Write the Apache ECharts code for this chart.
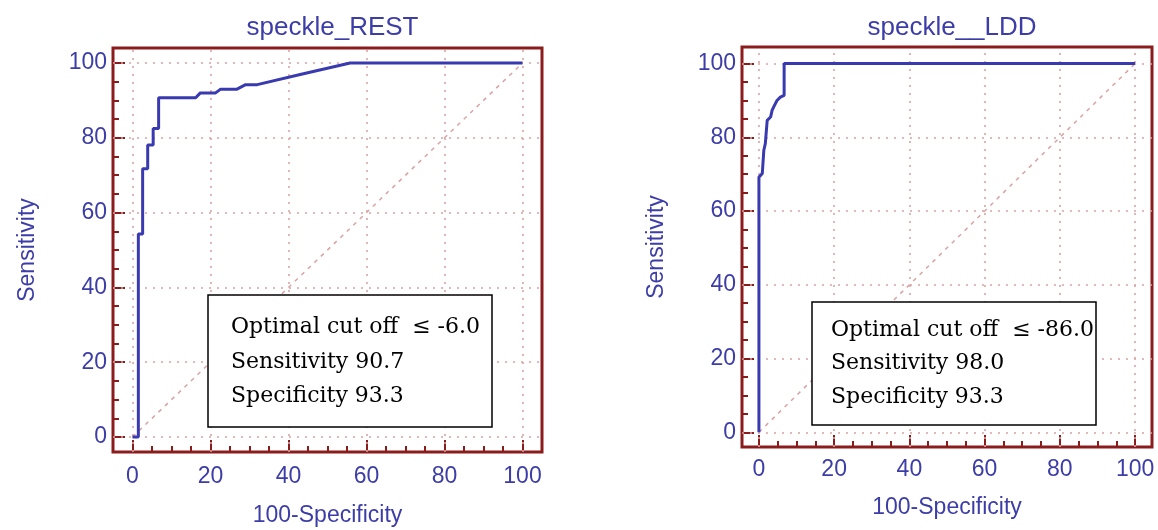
<!DOCTYPE html>
<html>
<head>
<meta charset="utf-8">
<script src="https://cdn.jsdelivr.net/npm/echarts@6/dist/echarts.min.js"></script>
<style>html,body{margin:0;padding:0;background:#fff;}#c{width:1158px;height:530px;}</style>
</head>
<body>
<div id="c"></div>
<script>
// ---- data ----
const titles = ['speckle_REST', 'speckle__LDD'];
const xName = '100-Specificity';
const yName = 'Sensitivity';
const majorTicks = [0, 20, 40, 60, 80, 100];
const minorTicks = [5, 10, 15, 25, 30, 35, 45, 50, 55, 65, 70, 75, 85, 90, 95];
const diagX = [0, 100];
const diagY = [0, 100];
const restX = [0, 1.5, 1.5, 2.6, 2.6, 3.9, 3.9, 5.3, 5.3, 6.7, 6.7, 16.2, 17.4, 21.3, 22.6, 26.8, 29, 32, 43, 55.8, 100];
const restY = [0, 0, 54.3, 54.3, 71.7, 71.7, 78.1, 78.1, 82.5, 82.5, 90.7, 90.7, 92, 92, 93, 93, 94.2, 94.2, 96.9, 100, 100];
const lddX = [0, 0, 0.9, 1.3, 1.7, 2.2, 3.1, 3.5, 3.9, 4.8, 5.7, 6.7, 6.7, 100];
const lddY = [0, 69.2, 70.2, 76.5, 78.3, 84.6, 85.5, 87.3, 88.2, 90, 90.9, 91.4, 100, 100];
const restBox = ['Optimal cut off  \u2264 -6.0', 'Sensitivity 90.7', 'Specificity 93.3'];
const lddBox = ['Optimal cut off  \u2264 -86.0', 'Sensitivity 98.0', 'Specificity 93.3'];

// ---- styles ----
const BLUE = '#3d3da8';
const CURVE = '#3a3ab0';
const FRAME = '#8b1c1c';
const GRIDC = '#d9a3a3';
const zip = (a, b) => a.map((v, i) => [v, b[i]]);

const grids = [
  {left: 113, top: 48, width: 429, height: 404, xr: [-5, 105], yr: [-4, 104], yGap: 74, xGap: 52, labM: 13},
  {left: 742, top: 47, width: 410, height: 400, xr: [-4.5, 104.5], yr: [-4, 104.5], yGap: 74, xGap: 49, labM: 11}
];

const option = {
  animation: false,
  backgroundColor: '#fff',
  title: grids.map((g, i) => ({
    text: titles[i], left: g.left + g.width / 2, top: 10, textAlign: 'center',
    textStyle: {fontFamily: 'Liberation Sans', fontSize: 26, fontWeight: 'normal', color: BLUE}
  })),
  grid: grids.map(g => ({left: g.left, top: g.top, width: g.width, height: g.height,
    outerBoundsMode: 'none', containLabel: false,
    show: true, borderColor: FRAME, borderWidth: 3, backgroundColor: 'transparent'})),
  xAxis: [],
  yAxis: [],
  series: [],
  graphic: []
};

grids.forEach((g, i) => {
  const label = {customValues: majorTicks, color: BLUE, fontFamily: 'Liberation Sans', fontSize: 23};
  const noLine = {show: false, onZero: false};
  option.xAxis.push({
    type: 'value', gridIndex: i, min: g.xr[0], max: g.xr[1], position: 'bottom',
    axisLine: noLine, splitLine: {show: false},
    axisTick: {show: true, inside: true, length: 12, customValues: majorTicks, lineStyle: {color: FRAME, width: 2}},
    axisLabel: Object.assign({margin: g.labM}, label),
    name: xName, nameLocation: 'middle', nameGap: g.xGap,
    nameTextStyle: {color: BLUE, fontFamily: 'Liberation Sans', fontSize: 23}
  });
  option.xAxis.push({
    type: 'value', gridIndex: i, min: g.xr[0], max: g.xr[1], position: 'bottom',
    axisLine: noLine, splitLine: {show: false},
    axisTick: {show: true, inside: true, length: 6, customValues: minorTicks, lineStyle: {color: FRAME, width: 2}},
    axisLabel: {show: false}
  });
  option.yAxis.push({
    type: 'value', gridIndex: i, min: g.yr[0], max: g.yr[1], position: 'left',
    axisLine: noLine, splitLine: {show: false},
    axisTick: {show: true, inside: true, length: 12, customValues: majorTicks, lineStyle: {color: FRAME, width: 2}},
    axisLabel: Object.assign({margin: 6}, label),
    name: yName, nameLocation: 'middle', nameGap: g.yGap, nameRotate: 90,
    nameTextStyle: {color: BLUE, fontFamily: 'Liberation Sans', fontSize: 23}
  });
  option.yAxis.push({
    type: 'value', gridIndex: i, min: g.yr[0], max: g.yr[1], position: 'left',
    axisLine: noLine, splitLine: {show: false},
    axisTick: {show: true, inside: true, length: 6, customValues: minorTicks, lineStyle: {color: FRAME, width: 2}},
    axisLabel: {show: false}
  });
  option.series.push({
    type: 'line', xAxisIndex: 2 * i, yAxisIndex: 2 * i, data: zip(diagX, diagY),
    symbol: 'none', silent: true, z: 1,
    lineStyle: {color: GRIDC, width: 1.5, type: [4, 5]},
    markLine: {
      silent: true, symbol: 'none', label: {show: false},
      lineStyle: {color: GRIDC, width: 1.6, type: [2, 6]},
      emphasis: {disabled: true},
      data: majorTicks.map(v => ({xAxis: v})).concat(majorTicks.map(v => ({yAxis: v})))
    }
  });
  option.series.push({
    type: 'line', xAxisIndex: 2 * i, yAxisIndex: 2 * i,
    data: i === 0 ? zip(restX, restY) : zip(lddX, lddY),
    symbol: 'none', z: 5, lineStyle: {color: CURVE, width: 3}
  });
});

const boxes = [
  {x: 208, y: 295, w: 284, h: 132, tx: 231, ty: [327, 362, 396], lines: restBox},
  {x: 812, y: 302, w: 284, h: 123, tx: 831, ty: [330, 363, 397], lines: lddBox}
];
boxes.forEach(b => {
  option.graphic.push({type: 'rect', z: 100, shape: {x: b.x, y: b.y, width: b.w, height: b.h},
    style: {fill: '#fff', stroke: '#000', lineWidth: 1.5}});
  b.lines.forEach((t, k) => option.graphic.push({type: 'text', z: 101, x: b.tx, y: b.ty[k],
    style: {text: t, fill: '#000', font: '22px "DejaVu Serif"', verticalAlign: 'middle'}}));
});

const chart = echarts.init(document.getElementById('c'));
chart.setOption(option);
</script>
</body>
</html>
